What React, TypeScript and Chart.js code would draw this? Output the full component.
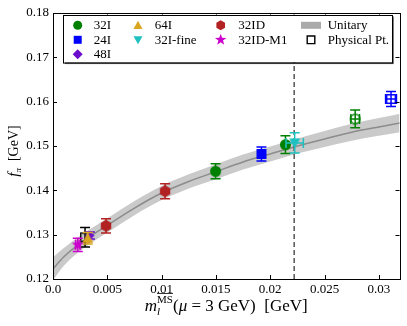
import React, { useEffect, useRef } from "react";
import { Chart, registerables } from "chart.js";

Chart.register(...registerables);

// ---------------- axes ----------------
const X_MIN = 0;
const X_MAX = 0.0319;
const Y_MIN = 0.12;
const Y_MAX = 0.18;
const X_TICKS = [0, 0.005, 0.01, 0.015, 0.02, 0.025, 0.03];
const X_TICK_LABELS = ["0.0", "0.005", "0.01", "0.015", "0.02", "0.025", "0.03"];
const Y_TICKS = [0.12, 0.13, 0.14, 0.15, 0.16, 0.17, 0.18];
const Y_TICK_LABELS = ["0.12", "0.13", "0.14", "0.15", "0.16", "0.17", "0.18"];

// ---------------- unitary fit band ----------------
const BAND_M = [0, 0.001, 0.0023, 0.005, 0.0075, 0.01, 0.0125, 0.015, 0.0175, 0.02, 0.0225, 0.025, 0.0275, 0.03, 0.032];
const BAND_MID = [0.1223, 0.125, 0.1277, 0.1321, 0.136, 0.1394, 0.142, 0.1442, 0.1464, 0.1482, 0.15, 0.1516, 0.1531, 0.1543, 0.1552];
const BAND_HI = [0.1249, 0.127, 0.1294, 0.1337, 0.1376, 0.141, 0.1436, 0.1459, 0.1481, 0.1499, 0.1517, 0.1534, 0.155, 0.1563, 0.1573];
const BAND_LO = [0.1197, 0.123, 0.126, 0.1305, 0.1344, 0.1378, 0.1404, 0.1425, 0.1447, 0.1465, 0.1483, 0.1498, 0.1512, 0.1523, 0.1531];

// physical light-quark mass line (dashed)
const DASH_M = [0.0222, 0.0222];
const DASH_F = [0.12, 0.18];

// ---------------- data ----------------
const M_PHYS = [0.00295];
const F_PHYS = [0.1294];
const E_PHYS = [0.0022];

const M_32I = [0.01497, 0.0214];
const F_32I = [0.1443, 0.1503];
const E_32I = [0.0017, 0.002];

const M_32I_OPEN = [0.02782];
const F_32I_OPEN = [0.1561];
const E_32I_OPEN = [0.002];
const XE_32I_OPEN = [0.0004];

const M_24I = [0.01919];
const F_24I = [0.1482];
const E_24I = [0.0016];

const M_24I_OPEN = [0.03112];
const F_24I_OPEN = [0.1606];
const E_24I_OPEN = [0.0017];
const XE_24I_OPEN = [0.0005];

const M_48I = [0.0034];
const F_48I = [0.1298];
const E_48I = [0.0008];

const M_64I = [0.0032];
const F_64I = [0.1292];
const E_64I = [0.0013];

const M_32IF = [0.02225];
const F_32IF = [0.1507];
const E_32IF = [0.0023];
const XE_32IF = [0.0008];

const M_32ID = [0.00488, 0.01032];
const F_32ID = [0.132, 0.1398];
const E_32ID = [0.0016, 0.0017];

const M_32IDM1 = [0.00228];
const F_32IDM1 = [0.1277];
const E_32IDM1 = [0.0015];
const XE_32IDM1 = [0.0002];

// ---------------- styles ----------------
const GREEN = "#008000";
const BLUE = "#0000ff";
const PURPLE = "#6a0dcc";
const ORANGE = "#daa520";
const CYAN = "#1fc0c0";
const RED = "#b22222";
const MAGENTA = "#cc00cc";
const SERIF = "'Liberation Serif', 'DejaVu Serif', serif";

type Series = {
  m: number[];
  f: number[];
  ef: number[];
  em?: number[];
  color: string;
  shape: string;
  size: number;
  filled: boolean;
  order: number;
};

const SERIES: Series[] = [
  { m: M_PHYS, f: F_PHYS, ef: E_PHYS, color: "#000000", shape: "square", size: 10, filled: false, order: 50 },
  { m: M_32I, f: F_32I, ef: E_32I, color: GREEN, shape: "circle", size: 11, filled: true, order: 20 },
  { m: M_32I_OPEN, f: F_32I_OPEN, ef: E_32I_OPEN, em: XE_32I_OPEN, color: GREEN, shape: "circle", size: 11, filled: false, order: 19 },
  { m: M_24I, f: F_24I, ef: E_24I, color: BLUE, shape: "square", size: 10, filled: true, order: 18 },
  { m: M_24I_OPEN, f: F_24I_OPEN, ef: E_24I_OPEN, em: XE_24I_OPEN, color: BLUE, shape: "square", size: 10, filled: false, order: 17 },
  { m: M_48I, f: F_48I, ef: E_48I, color: PURPLE, shape: "diamond", size: 9, filled: true, order: 16 },
  { m: M_64I, f: F_64I, ef: E_64I, color: ORANGE, shape: "triUp", size: 11, filled: true, order: 15 },
  { m: M_32IF, f: F_32IF, ef: E_32IF, em: XE_32IF, color: CYAN, shape: "triDown", size: 11, filled: true, order: 14 },
  { m: M_32ID, f: F_32ID, ef: E_32ID, color: RED, shape: "hexagon", size: 12, filled: true, order: 13 },
  { m: M_32IDM1, f: F_32IDM1, ef: E_32IDM1, em: XE_32IDM1, color: MAGENTA, shape: "star", size: 13, filled: true, order: 12 },
];

type LegendItem = { label: string; shape: string; color: string; size: number; filled: boolean };
const LEGEND_COLS: LegendItem[][] = [
  [
    { label: "32I", shape: "circle", color: GREEN, size: 9, filled: true },
    { label: "24I", shape: "square", color: BLUE, size: 8, filled: true },
    { label: "48I", shape: "diamond", color: PURPLE, size: 10, filled: true },
  ],
  [
    { label: "64I", shape: "triUp", color: ORANGE, size: 9, filled: true },
    { label: "32I-fine", shape: "triDown", color: CYAN, size: 9, filled: true },
  ],
  [
    { label: "32ID", shape: "hexagon", color: RED, size: 10, filled: true },
    { label: "32ID-M1", shape: "star", color: MAGENTA, size: 12, filled: true },
  ],
  [
    { label: "Unitary", shape: "patch", color: "#aaaaaa", size: 10, filled: true },
    { label: "Physical Pt.", shape: "square", color: "#000000", size: 9, filled: false },
  ],
];

// ---------------- drawing helpers ----------------
function shapePath(ctx: CanvasRenderingContext2D, shape: string, cx: number, cy: number, s: number) {
  const r = s / 2;
  ctx.beginPath();
  if (shape === "circle") {
    ctx.arc(cx, cy, r, 0, Math.PI * 2);
  } else if (shape === "square") {
    ctx.rect(cx - r, cy - r, s, s);
  } else if (shape === "diamond") {
    ctx.moveTo(cx, cy - r);
    ctx.lineTo(cx + r, cy);
    ctx.lineTo(cx, cy + r);
    ctx.lineTo(cx - r, cy);
    ctx.closePath();
  } else if (shape === "triUp") {
    ctx.moveTo(cx, cy - r);
    ctx.lineTo(cx + r, cy + r * 0.8);
    ctx.lineTo(cx - r, cy + r * 0.8);
    ctx.closePath();
  } else if (shape === "triDown") {
    ctx.moveTo(cx, cy + r);
    ctx.lineTo(cx + r, cy - r * 0.8);
    ctx.lineTo(cx - r, cy - r * 0.8);
    ctx.closePath();
  } else if (shape === "hexagon") {
    for (let k = 0; k < 6; k++) {
      const a = -Math.PI / 2 + (k * Math.PI) / 3;
      const px = cx + r * Math.cos(a);
      const py = cy + r * Math.sin(a);
      if (k === 0) ctx.moveTo(px, py);
      else ctx.lineTo(px, py);
    }
    ctx.closePath();
  } else if (shape === "star") {
    for (let k = 0; k < 10; k++) {
      const a = -Math.PI / 2 + (k * Math.PI) / 5;
      const rr = k % 2 === 0 ? r : r * 0.4;
      const px = cx + rr * Math.cos(a);
      const py = cy + rr * Math.sin(a);
      if (k === 0) ctx.moveTo(px, py);
      else ctx.lineTo(px, py);
    }
    ctx.closePath();
  }
}

function drawMarker(ctx: CanvasRenderingContext2D, shape: string, cx: number, cy: number, s: number, color: string, filled: boolean) {
  ctx.save();
  if (shape === "patch") {
    ctx.fillStyle = color;
    ctx.fillRect(cx - 10, cy - 3.5, 20, 7);
    ctx.restore();
    return;
  }
  shapePath(ctx, shape, cx, cy, filled ? s : s - 1.4);
  if (filled) {
    ctx.fillStyle = color;
    ctx.fill();
  } else {
    ctx.lineWidth = 1.4;
    ctx.strokeStyle = color;
    ctx.stroke();
  }
  ctx.restore();
}

function makeMarkerImage(shape: string, size: number, color: string, filled: boolean) {
  const c = document.createElement("canvas");
  const dim = size + 2;
  c.width = dim;
  c.height = dim;
  const ctx = c.getContext("2d") as CanvasRenderingContext2D;
  drawMarker(ctx, shape, dim / 2, dim / 2, size, color, filled);
  return c;
}

function drawErrorBars(chart: any, s: Series) {
  const { ctx } = chart;
  const xs = chart.scales.x;
  const ys = chart.scales.y;
  const cap = 5;
  ctx.save();
  ctx.strokeStyle = s.color;
  ctx.lineWidth = 1.5;
  s.m.forEach((m, i) => {
    const px = xs.getPixelForValue(m);
    const py = ys.getPixelForValue(s.f[i]);
    const top = ys.getPixelForValue(s.f[i] + s.ef[i]);
    const bot = ys.getPixelForValue(s.f[i] - s.ef[i]);
    ctx.beginPath();
    ctx.moveTo(px, top);
    ctx.lineTo(px, bot);
    ctx.moveTo(px - cap, top);
    ctx.lineTo(px + cap, top);
    ctx.moveTo(px - cap, bot);
    ctx.lineTo(px + cap, bot);
    if (s.em) {
      const l = xs.getPixelForValue(m - s.em[i]);
      const r = xs.getPixelForValue(m + s.em[i]);
      ctx.moveTo(l, py);
      ctx.lineTo(r, py);
      ctx.moveTo(l, py - cap);
      ctx.lineTo(l, py + cap);
      ctx.moveTo(r, py - cap);
      ctx.lineTo(r, py + cap);
    }
    ctx.stroke();
  });
  ctx.restore();
}

type Part = { t: string; size: number; italic?: boolean; dy?: number; overline?: boolean; advance?: boolean };

function drawParts(ctx: CanvasRenderingContext2D, parts: Part[], startX: number, baseY: number) {
  let x = startX;
  for (const p of parts) {
    ctx.font = `${p.italic ? "italic " : ""}${p.size}px ${SERIF}`;
    const w = ctx.measureText(p.t).width;
    ctx.fillText(p.t, x, baseY + (p.dy || 0));
    if (p.overline) {
      ctx.save();
      ctx.lineWidth = 0.8;
      ctx.beginPath();
      ctx.moveTo(x, baseY + (p.dy || 0) - p.size * 0.8);
      ctx.lineTo(x + w, baseY + (p.dy || 0) - p.size * 0.8);
      ctx.stroke();
      ctx.restore();
    }
    if (p.advance !== false) x += w;
  }
}

function partsWidth(ctx: CanvasRenderingContext2D, parts: Part[]) {
  let w = 0;
  for (const p of parts) {
    ctx.font = `${p.italic ? "italic " : ""}${p.size}px ${SERIF}`;
    if (p.advance !== false) w += ctx.measureText(p.t).width;
  }
  return w;
}

const decoPlugin = {
  id: "deco",
  beforeDatasetDraw(chart: any, args: any) {
    const ds = chart.data.datasets[args.index];
    if (ds && typeof ds.seriesIdx === "number") {
      drawErrorBars(chart, SERIES[ds.seriesIdx]);
    }
  },
  afterDraw(chart: any) {
    const { ctx, chartArea } = chart;
    const { left, right, top, bottom } = chartArea;
    const xs = chart.scales.x;
    const ys = chart.scales.y;
    ctx.save();
    // frame
    ctx.strokeStyle = "#000";
    ctx.lineWidth = 1;
    ctx.strokeRect(Math.round(left) + 0.5, Math.round(top) + 0.5, Math.round(right - left), Math.round(bottom - top));
    // inward ticks on all four sides
    const tl = 4;
    ctx.beginPath();
    X_TICKS.forEach((v) => {
      const px = Math.round(xs.getPixelForValue(v)) + 0.5;
      ctx.moveTo(px, bottom);
      ctx.lineTo(px, bottom - tl);
      ctx.moveTo(px, top);
      ctx.lineTo(px, top + tl);
    });
    Y_TICKS.forEach((v) => {
      const py = Math.round(ys.getPixelForValue(v)) + 0.5;
      ctx.moveTo(left, py);
      ctx.lineTo(left + tl, py);
      ctx.moveTo(right, py);
      ctx.lineTo(right - tl, py);
    });
    ctx.stroke();

    // x-axis title
    ctx.fillStyle = "#000";
    ctx.strokeStyle = "#000";
    ctx.textBaseline = "alphabetic";
    ctx.textAlign = "left";
    const xParts: Part[] = [
      { t: "m", size: 17, italic: true },
      { t: "l", size: 11, italic: true, dy: 4, advance: false },
      { t: "MS", size: 11, dy: -8 },
      { t: "(", size: 17 },
      { t: "μ", size: 17, italic: true },
      { t: " = 3 GeV)", size: 17 },
      { t: "  [GeV]", size: 17 },
    ];
    const xw = partsWidth(ctx, xParts);
    const xStart = (left + right) / 2 - xw / 2;
    drawParts(ctx, xParts, xStart, 311);
    // overline over MS
    ctx.font = `italic 17px ${SERIF}`;
    const mW = ctx.measureText("m").width;
    ctx.font = `11px ${SERIF}`;
    const msW = ctx.measureText("MS").width;
    ctx.lineWidth = 0.8;
    ctx.beginPath();
    ctx.moveTo(xStart + mW, 311 - 8 - 9.5);
    ctx.lineTo(xStart + mW + msW, 311 - 8 - 9.5);
    ctx.stroke();

    // y-axis title (rotated)
    const yParts: Part[] = [
      { t: "f", size: 15, italic: true },
      { t: "π", size: 9, italic: true, dy: 3 },
      { t: "  [GeV]", size: 14 },
    ];
    ctx.save();
    ctx.translate(18, (top + bottom) / 2 + 5);
    ctx.rotate(-Math.PI / 2);
    const yw = partsWidth(ctx, yParts);
    drawParts(ctx, yParts, -yw / 2, 0);
    ctx.restore();

    // legend
    const bx = left + 10;
    const by = top + 1.5;
    const bw = 329;
    const bh = 47.6;
    ctx.fillStyle = "rgba(0,0,0,0.5)";
    ctx.fillRect(bx + 2, by + 2, bw, bh);
    ctx.fillStyle = "#fff";
    ctx.fillRect(bx, by, bw, bh);
    ctx.strokeStyle = "#000";
    ctx.lineWidth = 1;
    ctx.strokeRect(Math.round(bx) + 0.5, Math.round(by) + 0.5, bw, bh);
    const colMarkerX = [14.7, 75, 157.7, 248];
    const colLabelX = [30.7, 91.7, 175.3, 264.7];
    const rowY = [10.8, 25.3, 39.8];
    ctx.textBaseline = "middle";
    LEGEND_COLS.forEach((col, ci) => {
      col.forEach((it, ri) => {
        const cy = by + rowY[ri];
        drawMarker(ctx, it.shape, bx + colMarkerX[ci], cy, it.size, it.color, it.filled);
        ctx.fillStyle = "#000";
        ctx.font = `13px ${SERIF}`;
        ctx.fillText(it.label, bx + colLabelX[ci], cy + 0.5);
      });
    });
    ctx.restore();
  },
};

export default function App() {
  const canvasRef = useRef<HTMLCanvasElement | null>(null);

  useEffect(() => {
    if (!canvasRef.current) return;
    const bandPts = (arr: number[]) => BAND_M.map((m, i) => ({ x: m, y: arr[i] }));
    const datasets: any[] = [
      {
        type: "line",
        data: bandPts(BAND_LO),
        showLine: true,
        borderWidth: 0,
        borderColor: "rgba(0,0,0,0)",
        pointRadius: 0,
        cubicInterpolationMode: "monotone",
        fill: false,
        order: 100,
      },
      {
        type: "line",
        data: bandPts(BAND_HI),
        showLine: true,
        borderWidth: 0,
        borderColor: "rgba(0,0,0,0)",
        backgroundColor: "rgba(150,150,150,0.5)",
        pointRadius: 0,
        cubicInterpolationMode: "monotone",
        fill: "-1",
        order: 99,
      },
      {
        type: "line",
        data: bandPts(BAND_MID),
        showLine: true,
        borderWidth: 1.5,
        borderColor: "#8c8c8c",
        pointRadius: 0,
        cubicInterpolationMode: "monotone",
        fill: false,
        order: 98,
      },
      {
        type: "line",
        data: DASH_M.map((m, i) => ({ x: m, y: DASH_F[i] })),
        showLine: true,
        borderWidth: 1,
        borderColor: "#000",
        borderDash: [5, 3],
        pointRadius: 0,
        fill: false,
        order: 97,
      },
    ];
    SERIES.forEach((s, idx) => {
      datasets.push({
        type: "scatter",
        seriesIdx: idx,
        data: s.m.map((m, i) => ({ x: m, y: s.f[i] })),
        pointStyle: makeMarkerImage(s.shape, s.size, s.color, s.filled),
        pointRadius: s.size / 2,
        showLine: false,
        order: s.order,
      });
    });

    const chart = new Chart(canvasRef.current, {
      type: "scatter",
      data: { datasets },
      options: {
        animation: false,
        responsive: true,
        maintainAspectRatio: false,
        events: [],
        layout: { padding: { top: 13, right: 5, left: 0, bottom: 0 } },
        plugins: { legend: { display: false }, tooltip: { enabled: false } },
        scales: {
          x: {
            type: "linear",
            min: X_MIN,
            max: X_MAX,
            grid: { display: false, drawTicks: false, tickLength: 0 },
            border: { display: false },
            afterBuildTicks: (scale: any) => {
              scale.ticks = X_TICKS.map((v) => ({ value: v }));
            },
            afterFit: (scale: any) => {
              scale.height = 47;
            },
            ticks: {
              padding: 3,
              color: "#000",
              font: { family: SERIF, size: 13 },
              maxRotation: 0,
              autoSkip: false,
              callback: (v: any) => {
                const i = X_TICKS.findIndex((t) => Math.abs(t - Number(v)) < 1e-9);
                return i >= 0 ? X_TICK_LABELS[i] : "";
              },
            },
          },
          y: {
            type: "linear",
            min: Y_MIN,
            max: Y_MAX,
            grid: { display: false, drawTicks: false, tickLength: 0 },
            border: { display: false },
            afterBuildTicks: (scale: any) => {
              scale.ticks = Y_TICKS.map((v) => ({ value: v }));
            },
            afterFit: (scale: any) => {
              scale.width = 53;
            },
            ticks: {
              padding: 4,
              color: "#000",
              font: { family: SERIF, size: 13 },
              autoSkip: false,
              callback: (v: any) => {
                const i = Y_TICKS.findIndex((t) => Math.abs(t - Number(v)) < 1e-9);
                return i >= 0 ? Y_TICK_LABELS[i] : "";
              },
            },
          },
        },
      } as any,
      plugins: [decoPlugin],
    });
    return () => chart.destroy();
  }, []);

  return (
    <div style={{ position: "fixed", left: 0, top: 0, width: 407, height: 326, background: "#fff" }}>
      <canvas ref={canvasRef} />
    </div>
  );
}
